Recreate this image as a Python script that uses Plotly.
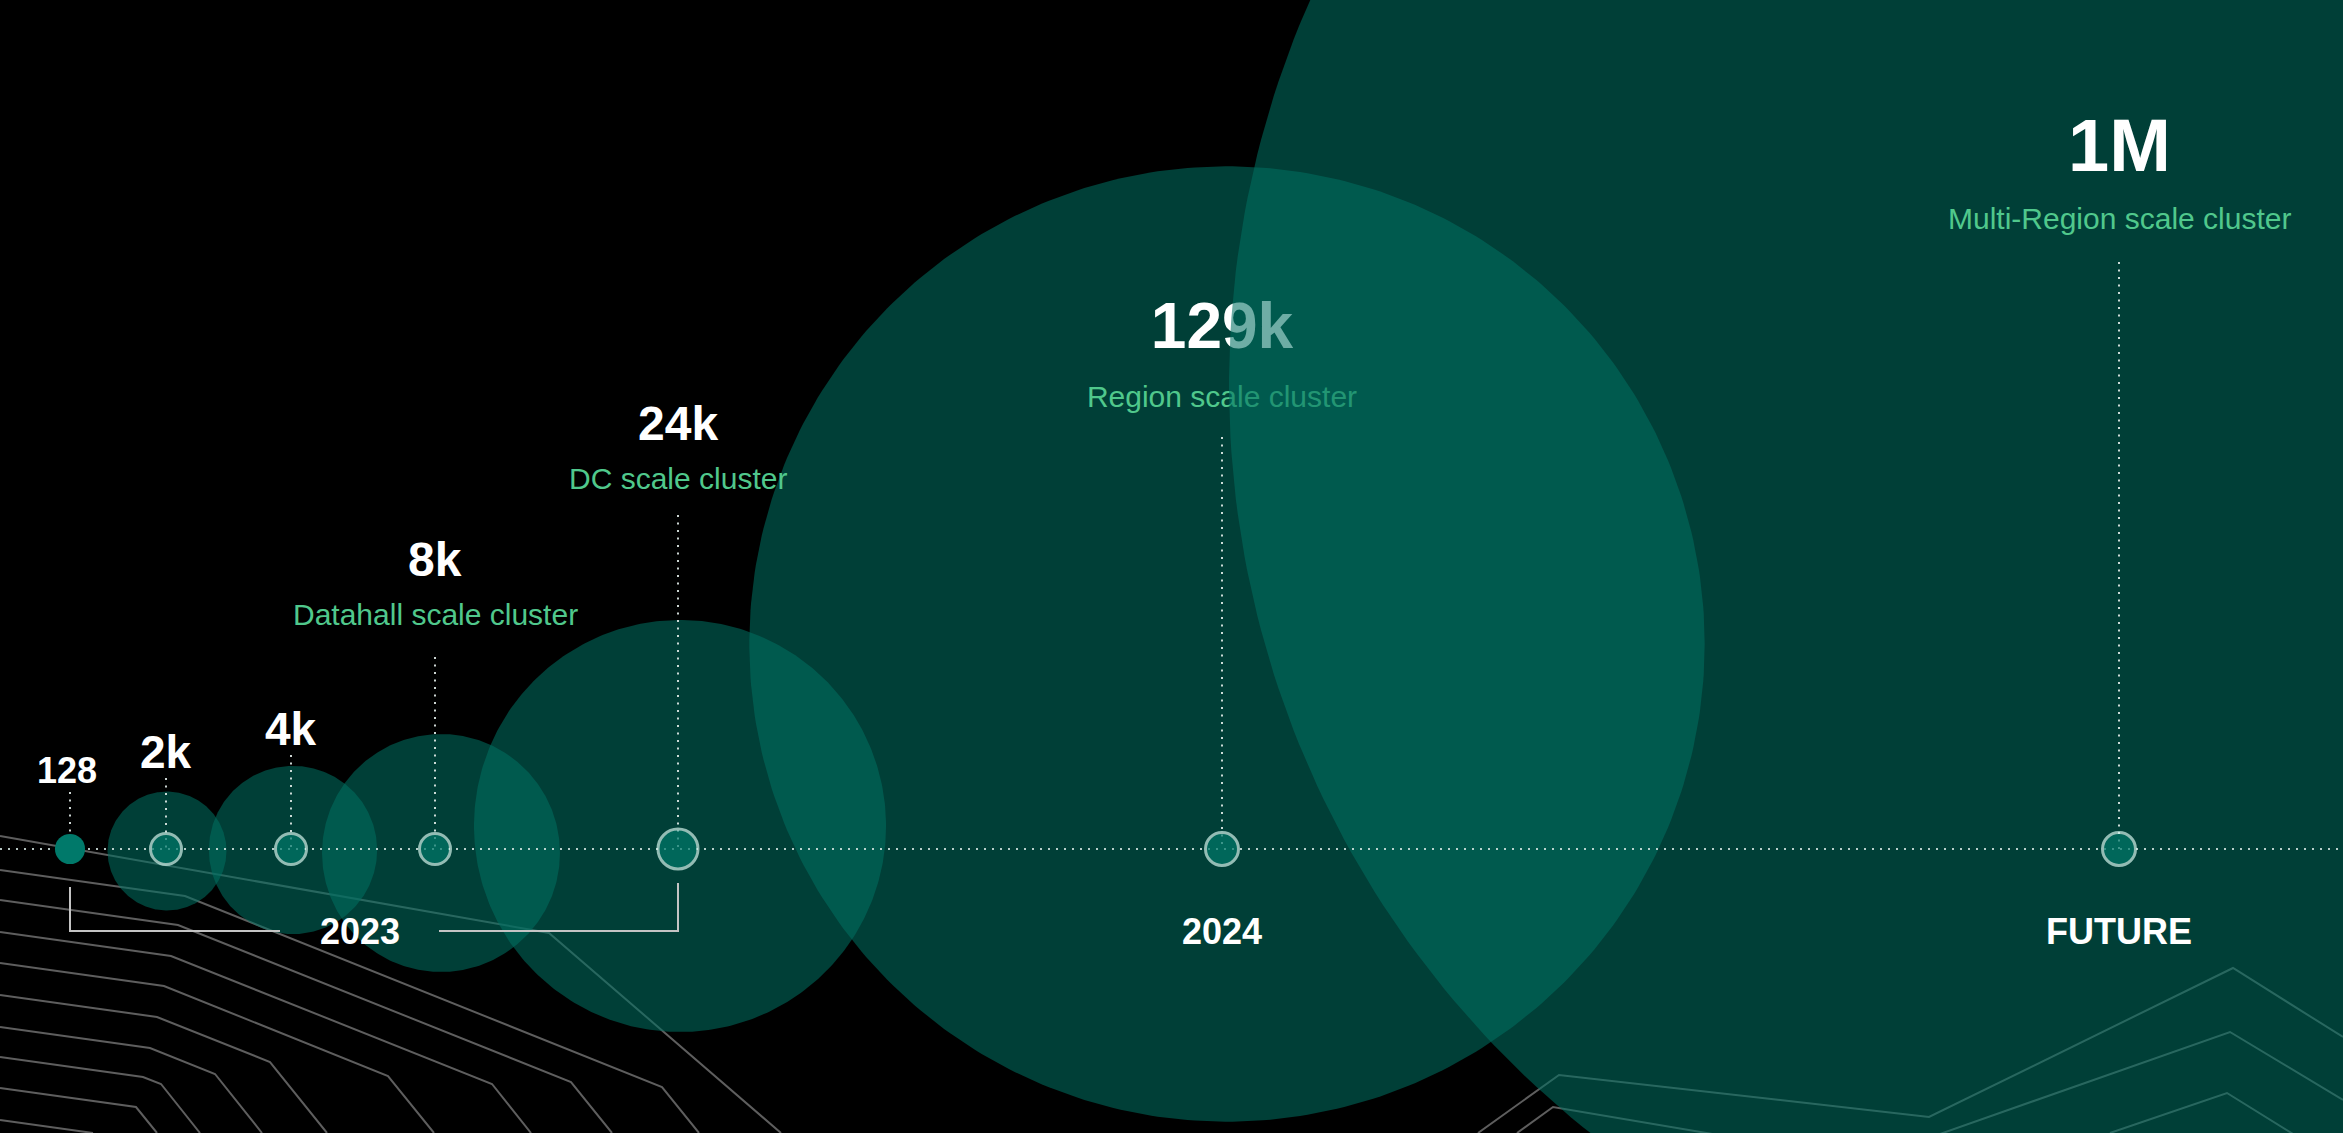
import numpy as np
import plotly.graph_objects as go

# ---------------------------------------------------------------- data
scale_labels = ["128", "2k", "4k", "8k", "24k", "129k", "1M"]
gpu_counts = [128, 2000, 4000, 8000, 24000, 129000, 1000000]
cluster_names = ["", "", "", "Datahall scale cluster", "DC scale cluster",
                 "Region scale cluster", "Multi-Region scale cluster"]
era_labels = ["2023", "2024", "FUTURE"]

# ---------------------------------------------------------------- layout constants
W, H = 2343, 1133
TIMELINE_Y = 849
FONT = "Liberation Sans, Arial, Helvetica, sans-serif"
GREEN_TEXT = "#50c88c"
BUBBLE_FILL = "rgba(0,110,96,0.57)"
NODE_FILL = "#00796a"
NODE_RING = "#d2f2ea"

node_x = [70, 166, 291, 435, 678, 1222, 2119]
node_size = [30, 31, 31, 31, 40, 33, 33]
bubble_cx = [70, 167, 293, 441, 680, 1227, 2184]
bubble_cy = [849, 851, 850, 853, 826, 644, 385]
RADIUS_K = 1.33          # px per sqrt(GPU)
RADIUS_MAX = 955         # largest bubble is drawn capped
value_y = [770, 752, 729, 559, 423, 332, 145]
value_size = [36, 46, 46, 48, 48, 64, 74]
name_y = [None, None, None, 614, 478, 399, 218]
stem_top = [792, 778, 755, 657, 515, 437, 262]
era_x = [360, 1222, 2119]
ERA_Y = 931

radii = [min(RADIUS_K * np.sqrt(v), RADIUS_MAX) for v in gpu_counts]

# decorative circuit-like strokes in the background
backdrop_lines = [
    [(0, 836), (549, 933), (781, 1133)],
    [(0, 870), (185, 896), (662, 1087), (699, 1133)],
    [(0, 900), (178, 925), (571, 1082), (612, 1133)],
    [(0, 932), (171, 956), (492, 1084), (531, 1133)],
    [(0, 963), (164, 986), (388, 1076), (434, 1133)],
    [(0, 995), (157, 1017), (270, 1062), (327, 1133)],
    [(0, 1027), (150, 1048), (215, 1074), (262, 1133)],
    [(0, 1057), (143, 1077), (161, 1084), (200, 1133)],
    [(0, 1088), (136, 1107), (157, 1133)],
    [(0, 1120), (93, 1133)],
    [(1478, 1133), (1559, 1075), (1929, 1117), (2233, 968), (2343, 1037)],
    [(1517, 1133), (1553, 1107), (1866, 1160), (2230, 1032), (2343, 1100)],
    [(2110, 1133), (2227, 1093), (2343, 1165)],
]


def circle_path(cx, cy, r, n=400):
    t = np.linspace(0, 2 * np.pi, n)
    return cx + r * np.cos(t), cy + r * np.sin(t)


fig = go.Figure()

# background strokes
for pts in backdrop_lines:
    xs, ys = zip(*pts)
    fig.add_trace(go.Scatter(x=xs, y=ys, mode="lines",
                             line=dict(color="#5e5e5e", width=2),
                             hoverinfo="skip"))

# translucent bubbles (2k .. 129k)
for i in range(1, 6):
    bx, by = circle_path(bubble_cx[i], bubble_cy[i], radii[i])
    fig.add_trace(go.Scatter(x=bx, y=by, mode="lines", fill="toself",
                             fillcolor=BUBBLE_FILL, line=dict(width=0),
                             hoverinfo="skip"))

# 129k label sits beneath the 1M bubble
fig.add_trace(go.Scatter(
    x=[node_x[5], node_x[5]], y=[value_y[5], name_y[5]], mode="text",
    text=[f"<b>{scale_labels[5]}</b>", cluster_names[5]],
    textposition="middle center",
    textfont=dict(family=FONT, size=[value_size[5], 30], color=["white", GREEN_TEXT]),
    hoverinfo="skip"))

# 1M bubble
bx, by = circle_path(bubble_cx[6], bubble_cy[6], radii[6])
fig.add_trace(go.Scatter(x=bx, y=by, mode="lines", fill="toself",
                         fillcolor=BUBBLE_FILL, line=dict(width=0),
                         hoverinfo="skip"))

# dotted timeline
fig.add_trace(go.Scatter(x=[0, W], y=[TIMELINE_Y, TIMELINE_Y], mode="lines",
                         line=dict(color="rgba(215,232,228,0.85)", width=2, dash="2px,6px"),
                         hoverinfo="skip"))

# dotted stems from nodes up to labels
for x, top in zip(node_x, stem_top):
    fig.add_trace(go.Scatter(x=[x, x], y=[top, TIMELINE_Y], mode="lines",
                             line=dict(color="rgba(225,235,232,0.9)", width=2, dash="2px,5.5px"),
                             hoverinfo="skip"))

# 2023 bracket
fig.add_trace(go.Scatter(
    x=[node_x[0], node_x[0], 280, None, 439, node_x[4], node_x[4]],
    y=[887, ERA_Y, ERA_Y, None, ERA_Y, ERA_Y, 883],
    mode="lines", line=dict(color="#c4c4c4", width=2), hoverinfo="skip"))

# timeline nodes
fig.add_trace(go.Scatter(
    x=node_x[:1], y=[TIMELINE_Y], mode="markers",
    marker=dict(size=2 * radii[0], color=NODE_FILL, line=dict(width=0)),
    hoverinfo="skip"))
fig.add_trace(go.Scatter(
    x=node_x[1:], y=[TIMELINE_Y] * (len(node_x) - 1), mode="markers",
    marker=dict(size=node_size[1:], color=NODE_FILL,
                line=dict(color=NODE_RING, width=3)),
    hoverinfo="skip"))

annotations = []
for i, lab in enumerate(scale_labels):
    if i == 5:
        continue
    annotations.append(dict(x=node_x[i] if i else 67, y=value_y[i], xref="x", yref="y",
                            text=f"<b>{lab}</b>", showarrow=False,
                            xanchor="center", yanchor="middle",
                            font=dict(family=FONT, size=value_size[i], color="white")))
    if cluster_names[i]:
        annotations.append(dict(x=node_x[i], y=name_y[i], xref="x", yref="y",
                                text=cluster_names[i], showarrow=False,
                                xanchor="center", yanchor="middle",
                                font=dict(family=FONT, size=30, color=GREEN_TEXT)))
for x, lab in zip(era_x, era_labels):
    annotations.append(dict(x=x, y=ERA_Y, xref="x", yref="y", text=f"<b>{lab}</b>",
                            showarrow=False, xanchor="center", yanchor="middle",
                            font=dict(family=FONT, size=36, color="white")))

fig.update_layout(
    width=W, height=H,
    margin=dict(l=0, r=0, t=0, b=0, pad=0),
    paper_bgcolor="black", plot_bgcolor="black",
    showlegend=False,
    xaxis=dict(range=[0, W], visible=False, fixedrange=True),
    yaxis=dict(range=[H, 0], visible=False, fixedrange=True),
    annotations=annotations,
    hovermode=False,
)

fig.write_html("out.html", config={"displayModeBar": False})
